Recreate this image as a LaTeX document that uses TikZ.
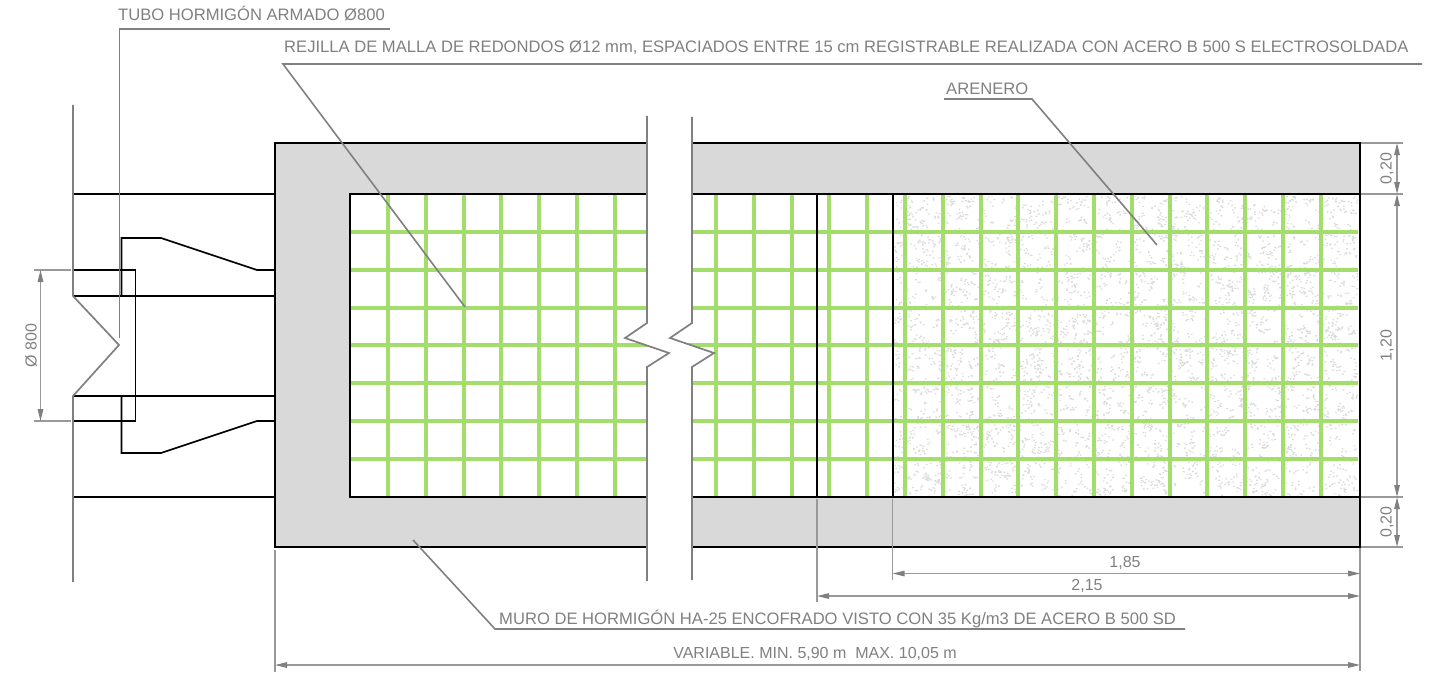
\documentclass[tikz,border=0pt]{standalone}
\usepackage{fontspec}
\setmainfont{Liberation Sans}
\usetikzlibrary{arrows.meta}
\definecolor{wall}{HTML}{D9D9D9}
\definecolor{mesh}{HTML}{A3DD6C}
\definecolor{cad}{HTML}{808080}
\definecolor{dimc}{HTML}{999999}
\definecolor{sand}{HTML}{DBDBDB}
\tikzset{
  obj/.style={draw=black,line width=2pt},
  thin obj/.style={draw=black,line width=1.6pt},
  cadline/.style={draw=cad,line width=1.7pt},
  leader/.style={draw=cad,line width=1.6pt},
  dimline/.style={draw=dimc,line width=1.3pt},
  dimarrow/.style={dimline,{Triangle[length=12pt,width=5.5pt,color=cad]}-{Triangle[length=12pt,width=5.5pt,color=cad]}},
  lab/.style={text=cad,font=\fontsize{16.6}{18}\selectfont,inner sep=0pt,anchor=base west},
  dimlab/.style={text=cad,font=\fontsize{16}{18}\selectfont,inner sep=0pt},
  meshline/.style={draw=mesh,line width=4pt}
}
\begin{document}
\begin{tikzpicture}[x=1pt,y=-1pt]
\useasboundingbox (0,0) rectangle (1445,674);
% wall
\fill[wall] (275,143) rectangle (1360,547);
\fill[white] (350,194) rectangle (1360,497);
% sand
\begin{scope}
\clip (892.5,196) rectangle (1358,495);
\pgfmathsetseed{4711}
\foreach \i in {1,...,1900}{
  \pgfmathsetmacro{\cx}{892+rnd*468}\pgfmathsetmacro{\cy}{194+rnd*303}
  \pgfmathsetmacro{\ax}{\cx+rnd*8-4}\pgfmathsetmacro{\ay}{\cy+rnd*8-4}
  \pgfmathsetmacro{\bx}{\cx+rnd*8-4}\pgfmathsetmacro{\by}{\cy+rnd*8-4}
  \fill[sand] (\cx,\cy) rectangle +(1.6,1.3) (\ax,\ay) rectangle +(1.6,1.3) (\bx,\by) rectangle +(1.6,1.3);
}
\end{scope}
% mesh
\foreach \k in {0,...,6}{\draw[meshline] (350,{232+37.8*\k}) -- (1358,{232+37.8*\k});}
\foreach \k in {0,...,6}{\draw[meshline] ({388+37.8*\k},194) -- ({388+37.8*\k},497);}
\foreach \k in {0,...,16}{\draw[meshline] ({716+37.8*\k},194) -- ({716+37.8*\k},497);}
% object lines
\draw[obj] (275,143) rectangle (1360,547);
\draw[obj] (1360,194) -- (350,194) -- (350,497) -- (1360,497);
\draw[obj] (817,194) -- (817,497);
\draw[obj] (892.5,194) -- (892.5,497);
% pipes
\draw[thin obj] (73,194) -- (275,194);
\draw[thin obj] (73,296) -- (275,296);
\draw[thin obj] (73,396) -- (275,396);
\draw[thin obj] (73,497) -- (275,497);
\draw[thin obj] (73,270) -- (135.5,270) -- (135.5,421) -- (73,421);
\draw[thin obj] (121.5,296) -- (121.5,238) -- (161,238) -- (257,270) -- (275,270);
\draw[thin obj] (121.5,396) -- (121.5,453) -- (161,453) -- (257,421) -- (275,421);
\draw[cadline] (73,105) -- (73,296) -- (119,345) -- (73,396) -- (73,582);
% break
\fill[white] (647,100) -- (647,323) -- (625,338) -- (669,353) -- (647,367) -- (647,590)
  -- (692,590) -- (692,367) -- (714,353) -- (670,338) -- (692,323) -- (692,100) -- cycle;
\draw[cadline] (647,116) -- (647,323) -- (625,338) -- (669,353) -- (647,367) -- (647,581);
\draw[cadline] (692,117) -- (692,323) -- (670,338) -- (714,353) -- (692,367) -- (692,580);
% leaders
\draw[leader] (119.5,338) -- (119.5,29) -- (390,29);
\draw[leader] (465,307) -- (283,64) -- (1422,64);
\draw[leader] (1157,245) -- (1032,99) -- (944,99);
\draw[leader] (413,540) -- (495,629) -- (1185,629);
\node[lab] (tubo) at (118,20.5) {TUBO HORMIGÓN ARMADO Ø800};
\node[lab] (rejilla) at (284,53) {REJILLA DE MALLA DE REDONDOS Ø12 mm, ESPACIADOS ENTRE 15 cm REGISTRABLE REALIZADA CON ACERO B 500 S ELECTROSOLDADA};
\node[lab] (arenero) at (946,94.5) {ARENERO};
\node[lab] (muro) at (499,624) {MURO DE HORMIGÓN HA-25 ENCOFRADO VISTO CON 35 Kg/m3 DE ACERO B 500 SD};
% dimension extension lines
\draw[dimline] (34,270) -- (71,270);
\draw[dimline] (34,421) -- (71,421);
\draw[dimline] (1361,143) -- (1403,143);
\draw[dimline] (1361,194) -- (1403,194);
\draw[dimline] (1361,497) -- (1403,497);
\draw[dimline] (1361,547) -- (1403,547);
\draw[dimline] (275,550) -- (275,672);
\draw[dimline] (1360,548) -- (1360,671);
\draw[dimline] (817,499) -- (817,602);
\draw[dimline] (892.5,499) -- (892.5,580);
% dimensions
\draw[dimarrow] (40.5,270) -- (40.5,421);
\draw[dimarrow] (1397,143) -- (1397,194);
\draw[dimarrow] (1397,194) -- (1397,497);
\draw[dimarrow] (1397,497) -- (1397,547);
\draw[dimarrow] (892.5,573.5) -- (1360,573.5);
\draw[dimarrow] (817,596) -- (1360,596);
\draw[dimarrow] (275,665) -- (1360,665);
\node[dimlab,rotate=90] (d800) at (31,345.5) {Ø 800};
\node[dimlab,rotate=90] (d020a) at (1387,168.5) {0,20};
\node[dimlab,rotate=90] (d120) at (1387,345.5) {1,20};
\node[dimlab,rotate=90] (d020b) at (1387,522) {0,20};
\node[dimlab] (d185) at (1125,563) {1,85};
\node[dimlab] (d215) at (1087,586) {2,15};
\node[dimlab] (dvar) at (815,654) {VARIABLE. MIN. 5,90 m\ \ MAX. 10,05 m};
\end{tikzpicture}
\end{document}
